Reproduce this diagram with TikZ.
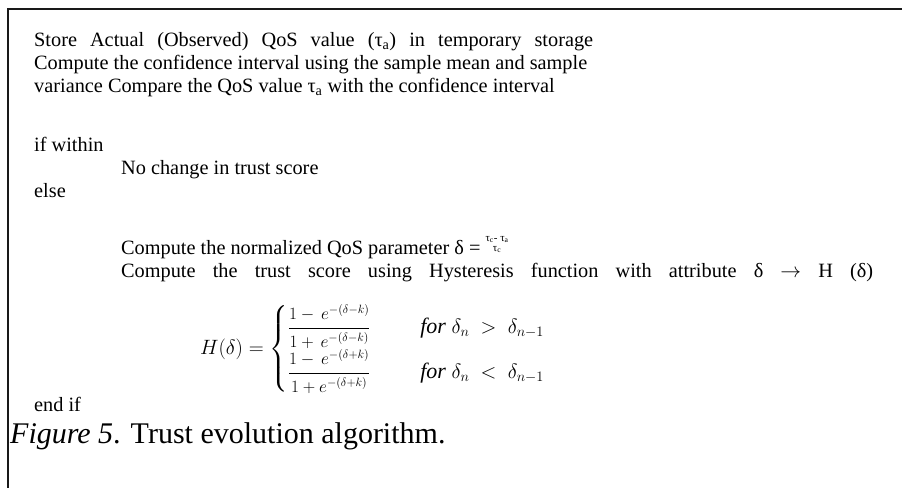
\documentclass[tikz,border=0pt]{standalone}
\usepackage{amsmath}
\usepackage{fontspec}
\setmainfont{Liberation Serif}
\newcommand{\fracpart}[1]{\mbox{\fontsize{17}{19}\selectfont$#1$}}
\begin{document}
\begin{tikzpicture}[x=1pt,y=-1pt,
  line/.style={anchor=base west, inner sep=0pt, font=\fontsize{20.3}{23}\selectfont},
  capt/.style={anchor=base west, inner sep=0pt, font=\fontsize{30}{32}\selectfont},
  frameline/.style={line width=2.6pt, color=black!90}]
\useasboundingbox (0,0) rectangle (902,488);
% open frame: top and left rules only
\coordinate (tl) at (8,9);
\coordinate (tr) at (902,9);
\coordinate (bl) at (8,488);
\draw[frameline] (tr) -- (tl) -- (bl);

\node[line] (l1) at (34,46) {\makebox[559pt][s]{Store Actual (Observed) QoS value (τ\textsubscript{a}) in temporary storage}};
\node[line] (l2) at (34,69) {Compute the confidence interval using the sample mean and sample};
\node[line] (l3) at (34,92) {variance Compare the QoS value τ\textsubscript{a} with the confidence interval};
\node[line] (if) at (34,151) {if within};
\node[line] (nc) at (121,174) {No change in trust score};
\node[line] (el) at (34,197) {else};
\node[line] (cn) at (121,254) {Compute the normalized QoS parameter δ = \raisebox{3pt}{\fontsize{11}{11}\selectfont\shortstack{τ\textsubscript{c}- τ\textsubscript{a}\\τ\textsubscript{c}}}};
\node[line] (ct) at (121,277) {\makebox[752pt][s]{Compute the trust score using Hysteresis function with attribute δ $\rightarrow$ H (δ)}};
\node[anchor=west, inner sep=0pt, font=\fontsize{22}{24}\selectfont] (hf) at (200,349)
  {$H(\delta) = \begin{cases}
     \dfrac{\fracpart{1-\, e^{-(\delta-k)}}}{\fracpart{1+\, e^{-(\delta-k)}}} & \quad\; \mathit{for}\ \delta_n\ >\ \delta_{n-1}\\[2pt]
     \dfrac{\fracpart{1-\, e^{-(\delta+k)}}}{\fracpart{1+e^{-(\delta+k)}}} & \quad\; \mathit{for}\ \delta_n\ <\ \delta_{n-1}
   \end{cases}$};
\node[line] (ei) at (34,411) {end if};
\node[capt] (cap) at (10,443) {\textit{Figure 5}. Trust evolution algorithm.};
\end{tikzpicture}
\end{document}
